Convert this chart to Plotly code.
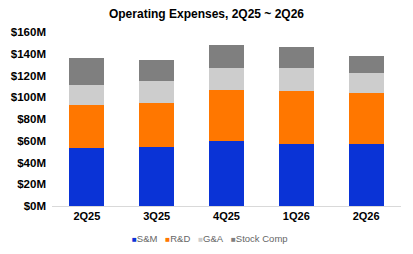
import plotly.graph_objects as go

categories = ["2Q25", "3Q25", "4Q25", "1Q26", "2Q26"]
sm = [53, 54, 59.5, 57, 57]
rd = [40, 41, 47.5, 48.5, 47]
ga = [18, 19.5, 20, 21, 18]
sc = [25, 20, 21, 20, 16]
series_names = ["S&M", "R&D", "G&A", "Stock Comp"]
colors = ["#0A33D6", "#FF7700", "#CDCDCD", "#7F7F7F"]
tick_vals = [0, 20, 40, 60, 80, 100, 120, 140, 160]
tick_text = ["$%dM" % v for v in tick_vals]

fig = go.Figure()
for name, vals, col in zip(series_names, [sm, rd, ga, sc], colors):
    fig.add_trace(go.Bar(x=categories, y=vals, name=name, marker_color=col,
                         marker_line_width=0))

legend_text = "&nbsp;&nbsp;&nbsp;".join(
    "<span style='color:%s;font-size:8px'>■</span>%s" % (c, n)
    for n, c in zip(series_names, colors))

fig.update_layout(
    barmode="stack",
    bargap=0.5,
    width=413, height=254,
    margin=dict(l=52, r=12, t=32, b=48),
    paper_bgcolor="white", plot_bgcolor="white",
    showlegend=False,
    font=dict(family="Liberation Sans, Arial", color="#000000"),
    title=dict(text="<b>Operating Expenses, 2Q25 ~ 2Q26</b>", x=0.5, xanchor="center",
               y=1 - 14 / 254, yanchor="middle", font=dict(size=12, color="#000")),
    xaxis=dict(showline=True, linecolor="#D9D9D9", linewidth=1, ticks="",
               tickfont=dict(size=11, color="#000", weight="bold")),
    yaxis=dict(range=[0, 160], tickvals=tick_vals, ticktext=tick_text, showgrid=False,
               zeroline=False, ticks="", ticklabelstandoff=5,
               tickfont=dict(size=11.5, color="#000", weight="bold")),
    annotations=[dict(text=legend_text, x=0.5, xref="paper", xanchor="center",
                      y=238.5, yref="paper", yanchor="middle", showarrow=False,
                      font=dict(size=9.5, color="#666"))],
)
plot_h = 254 - 32 - 48
fig.layout.annotations[0].y = -(238.5 - (254 - 48)) / plot_h
fig.layout.annotations[0].x = (210 - 52) / (413 - 52 - 12)

fig.write_html("out.html")
